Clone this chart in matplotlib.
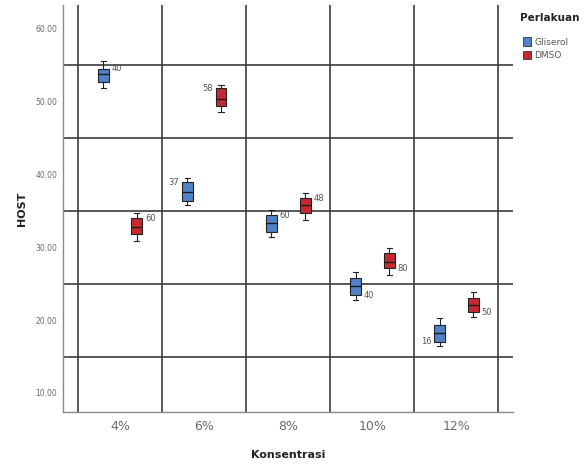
import numpy as np
import matplotlib.pyplot as plt

# data
categories = ["4%", "6%", "8%", "10%", "12%"]
groups = ["Gliserol", "DMSO"]

# whisker low, q1, median, q3, whisker high
gliserol_stats = [
    [51.8, 52.6, 53.7, 54.5, 55.6],
    [35.8, 36.4, 37.5, 38.9, 39.5],
    [31.4, 32.1, 33.3, 34.4, 35.1],
    [22.7, 23.4, 24.7, 25.8, 26.6],
    [16.4, 17.0, 18.2, 19.3, 20.3],
]
dmso_stats = [
    [30.8, 31.8, 32.7, 34.0, 34.7],
    [48.5, 49.3, 50.3, 51.8, 52.2],
    [33.7, 34.7, 35.8, 36.7, 37.4],
    [26.2, 27.1, 27.9, 29.2, 29.9],
    [20.4, 21.1, 22.1, 23.0, 23.8],
]

# case labels next to the boxes: text, side, end of box
gliserol_labels = ["40", "37", "60", "40", "16"]
gliserol_side = ["r", "l", "r", "r", "l"]
gliserol_end = ["hi", "hi", "hi", "lo", "lo"]
dmso_labels = ["60", "58", "48", "80", "50"]
dmso_side = ["r", "l", "r", "r", "r"]
dmso_end = ["hi", "hi", "hi", "lo", "lo"]

yticks = [10, 20, 30, 40, 50, 60]
hgrid = [15, 25, 35, 45, 55]

colors = {"Gliserol": "#4f82c8", "DMSO": "#c62a30"}
gridc = "#3c3c3c"
textc = "#6a6a6a"

fig = plt.figure(figsize=(5.88, 4.66), dpi=100)
ax = fig.add_axes([0.107, 0.116, 0.765, 0.873])

def make_stats(rows):
    out = []
    for r in rows:
        out.append(dict(whislo=r[0], q1=r[1], med=r[2], q3=r[3], whishi=r[4], fliers=[]))
    return out

x = np.arange(len(categories))
offs = {"Gliserol": -0.2, "DMSO": 0.2}
all_stats = {"Gliserol": gliserol_stats, "DMSO": dmso_stats}
all_labels = {"Gliserol": (gliserol_labels, gliserol_side, gliserol_end),
              "DMSO": (dmso_labels, dmso_side, dmso_end)}

# grid lines drawn first
for h in hgrid:
    ax.axhline(h, color=gridc, lw=1.2, zorder=1)
for b in np.arange(-0.5, len(categories), 1.0):
    ax.axvline(b, color=gridc, lw=1.2, zorder=1)

for g in groups:
    pos = x + offs[g]
    ax.bxp(make_stats(all_stats[g]), positions=pos, widths=0.13,
           patch_artist=True, showfliers=False, manage_ticks=False,
           boxprops=dict(facecolor=colors[g], edgecolor="#222222", lw=0.8),
           medianprops=dict(color="#1a1a1a", lw=1.0),
           whiskerprops=dict(color="#222222", lw=0.8),
           capprops=dict(color="#222222", lw=0.8), capwidths=0.06,
           zorder=3)
    labs, sides, ends = all_labels[g]
    for i in range(len(categories)):
        st = all_stats[g][i]
        yv = st[3] if ends[i] == "hi" else st[1]
        dx = 6 if sides[i] == "r" else -6
        ha = "left" if sides[i] == "r" else "right"
        ax.annotate(labs[i], (pos[i], yv), xytext=(dx, 0),
                    textcoords="offset points", ha=ha, va="center",
                    fontsize=6, color="#555555", zorder=4)

ax.set_xlim(-0.68, 4.67)
ax.set_ylim(7.4, 63.2)
ax.set_xticks(x)
ax.set_xticklabels(categories, fontsize=9, color=textc)
ax.set_yticks(yticks)
ax.set_yticklabels(["%.2f" % v for v in yticks], fontsize=5.5, color=textc)
ax.tick_params(axis="y", length=0, pad=4)
ax.tick_params(axis="x", length=0, pad=6)
for s in ["top", "right"]:
    ax.spines[s].set_visible(False)
for s in ["left", "bottom"]:
    ax.spines[s].set_color("#8a8a8a")
    ax.spines[s].set_linewidth(1.0)

ax.set_xlabel("Konsentrasi", fontsize=8, fontweight="bold", color="#222222", labelpad=12)
ax.set_ylabel("HOST", fontsize=8, fontweight="bold", color="#222222", labelpad=6)

# legend
fig.text(0.885, 0.962, "Perlakuan", fontsize=7.5, fontweight="bold",
         color="#222222", va="center", ha="left")
handles = [plt.Rectangle((0, 0), 1, 1, facecolor=colors[g], edgecolor="#333333", lw=0.6)
           for g in groups]
leg = fig.legend(handles, groups, loc="upper left", bbox_to_anchor=(0.89, 0.92),
                 frameon=False, fontsize=6.5,
                 handlelength=0.9, handleheight=1.1, handletextpad=0.3,
                 labelspacing=0.45, borderaxespad=0, borderpad=0)
for t in leg.get_texts():
    t.set_color("#555555")

fig.savefig("out.png", dpi=100)
